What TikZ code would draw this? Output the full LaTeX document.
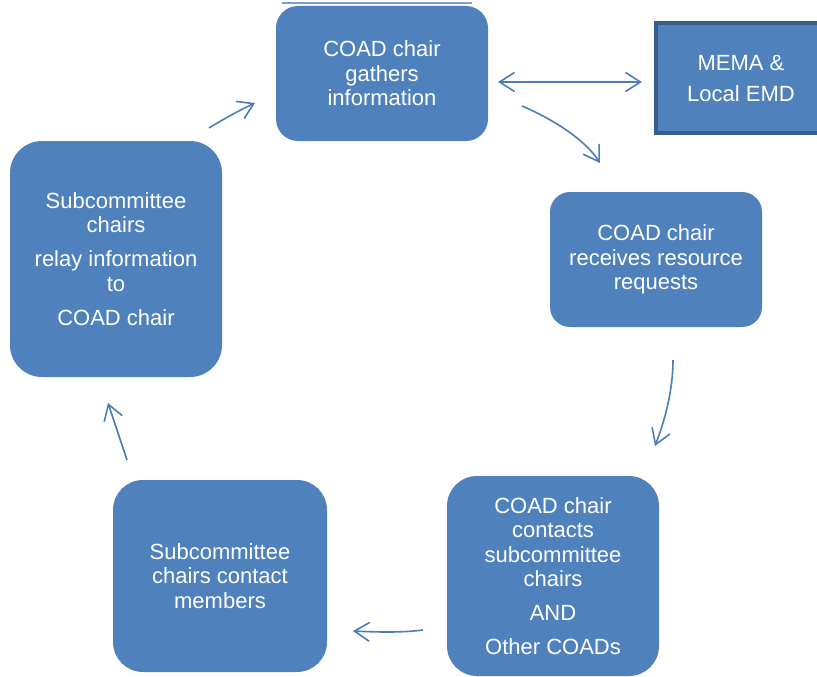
\documentclass[tikz,border=0pt]{standalone}
\usepackage{fontspec}
\setmainfont{Liberation Sans}
\usetikzlibrary{arrows.meta}
\definecolor{boxblue}{HTML}{4F81BD}
\definecolor{boxedge}{HTML}{385D8A}
\definecolor{arrblue}{HTML}{4A7EBB}
\begin{document}
\begin{tikzpicture}[x=1pt,y=-1pt,
  stepbox/.style={fill=boxblue, rounded corners=#1, text=white, align=center,
    font=\fontsize{22}{24.5}\selectfont, inner sep=0pt},
  stepbox/.default=26pt,
  sidebox/.style={fill=boxblue, draw=boxedge, line width=4pt, text=white, align=center,
    font=\fontsize{22}{24.5}\selectfont, inner sep=0pt},
  arr/.style={draw=arrblue, line width=1.6pt, -{Straight Barb[length=15pt,width=19pt]}},
  dblarr/.style={arr, {Straight Barb[length=15pt,width=19pt]}-{Straight Barb[length=15pt,width=19pt]}},
  topline/.style={draw=boxblue!75, line width=1.2pt}]
\clip (0,0) rectangle (817,677);
\fill[white] (0,0) rectangle (817,677);

\draw[topline] (282,3) -- (472,3);

\node[stepbox=22pt, minimum width=212pt, minimum height=135pt] (gather) at (382,73.5)
  {COAD chair\\gathers\\information};
\node[sidebox, minimum width=170pt, minimum height=110pt] (mema) at (741,78)
  {MEMA \&\\[6.5pt]Local EMD};
\node[stepbox=20pt, minimum width=212pt, minimum height=135pt] (receive) at (656,259.5)
  {COAD chair\\receives resource\\requests};
\node[stepbox=30pt, minimum width=212pt, minimum height=200pt] (contact) at (553,576)
  {COAD chair\\contacts\\subcommittee\\chairs\\[9pt]AND\\[10pt]Other COADs};
\node[stepbox=30pt, minimum width=214pt, minimum height=192pt] (members) at (220,576)
  {Subcommittee\\chairs contact\\members};
\node[stepbox=32pt, minimum width=212pt, minimum height=236pt] (relay) at (116,259)
  {Subcommittee\\chairs\\[9.5pt]relay information\\to\\[9.5pt]COAD chair};

\coordinate (a1) at (498,82);
\coordinate (a2) at (642,82);
\coordinate (b1) at (522,106);
\coordinate (b2) at (600,163);
\coordinate (c1) at (673,360);
\coordinate (c2) at (655,446);
\coordinate (d1) at (423,630);
\coordinate (d2) at (353,631);
\coordinate (e1) at (127,460);
\coordinate (e2) at (108,403);
\coordinate (f1) at (209,128);
\coordinate (f2) at (255,103);

\draw[dblarr] (a1) -- (a2);
\draw[arr] (b1) .. controls (550,118) and (584,138) .. (b2);
\draw[arr] (c1) .. controls (673,390) and (665,420) .. (c2);
\draw[arr] (d1) .. controls (400,633) and (375,632) .. (d2);
\draw[arr] (e1) -- (e2);
\draw[arr] (f1) .. controls (222,120) and (238,111) .. (f2);
\end{tikzpicture}
\end{document}
